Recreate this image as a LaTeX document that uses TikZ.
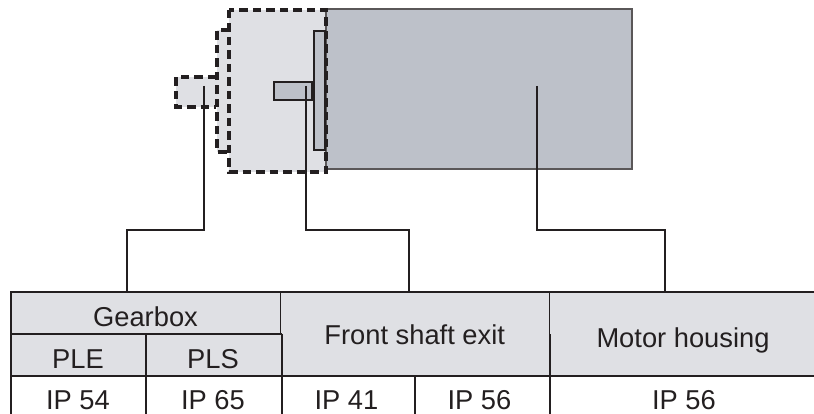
\documentclass[tikz,border=0pt]{standalone}
\usepackage{fontspec}
\setmainfont{Liberation Sans}
\definecolor{housing}{HTML}{BDC1C9}
\definecolor{pale}{HTML}{DFE0E4}
\definecolor{ink}{HTML}{231F20}
\tikzset{
  x=1pt,y=-1pt,
  dashbox/.style={draw=ink,line width=3.2pt,dash pattern=on 8.5pt off 5pt},
  solidbox/.style={draw=ink,line width=2.2pt},
  leader/.style={draw=ink,line width=1.4pt},
  rule/.style={draw=ink,line width=2pt},
  thinrule/.style={draw=ink,line width=1.3pt},
  cell/.style={font=\fontsize{27.3}{30}\selectfont,text=ink,inner sep=0pt,anchor=base},
}
\begin{document}
\begin{tikzpicture}
\useasboundingbox (0,0) rectangle (814,414);
% pale parts and motor
\fill[pale] (176,77) rectangle (217,107);
\fill[pale] (217,30) rectangle (229,152);
\fill[pale] (229,10) rectangle (326,172);
\path[fill=housing,draw=ink!75,line width=1.4pt] (326,9) rectangle (632,169);
\path[fill=housing,solidbox] (314,31) rectangle (325,150);
\path[fill=housing,solidbox] (274,82) rectangle (312,100);
% dashed outlines
\draw[dashbox] (216,77) -- (176,77) -- (176,107) -- (216,107);
\draw[dashbox] (229,30) -- (217,30) -- (217,152) -- (229,152);
\draw[dashbox] (229,10) rectangle (326,172);
% table
\fill[pale] (11,292) rectangle (814,376);
\draw[rule] (10,292) -- (814,292);
\draw[rule] (11,334) -- (282,334);
\draw[rule] (11,376) -- (814,376);
\draw[rule] (11,292) -- (11,414);
\draw[rule] (146,334) -- (146,414);
\draw[thinrule] (280.5,292) -- (280.5,334);
\draw[rule] (281.5,334) -- (281.5,414);
\draw[rule] (415,376) -- (415,414);
\draw[thinrule] (549.5,292) -- (549.5,334);
\draw[rule] (550,334) -- (550,414);
% texts
\node[cell] (gearbox) at (145.5,326) {Gearbox};
\node[cell] (ple) at (78,368) {PLE};
\node[cell] (pls) at (213,368) {PLS};
\node[cell] (front) at (414.7,344.5) {Front shaft exit};
\node[cell] (motor) at (683,347) {Motor housing};
\node[cell] (ip1) at (78,409) {IP 54};
\node[cell] (ip2) at (213,409) {IP 65};
\node[cell] (ip3) at (346.5,409) {IP 41};
\node[cell] (ip4) at (479.5,409) {IP 56};
\node[cell] (ip5) at (684,409) {IP 56};
% connectors
\coordinate (a0) at (204,86); \coordinate (a1) at (127,291);
\coordinate (b0) at (306,86); \coordinate (b1) at (409,291);
\coordinate (c0) at (537,86); \coordinate (c1) at (665,291);
\draw[leader] (a0) -- (a0 |- 0,230) -- (a1 |- 0,230) -- (a1);
\draw[leader] (b0) -- (b0 |- 0,230) -- (b1 |- 0,230) -- (b1);
\draw[leader] (c0) -- (c0 |- 0,230) -- (c1 |- 0,230) -- (c1);
\end{tikzpicture}
\end{document}
